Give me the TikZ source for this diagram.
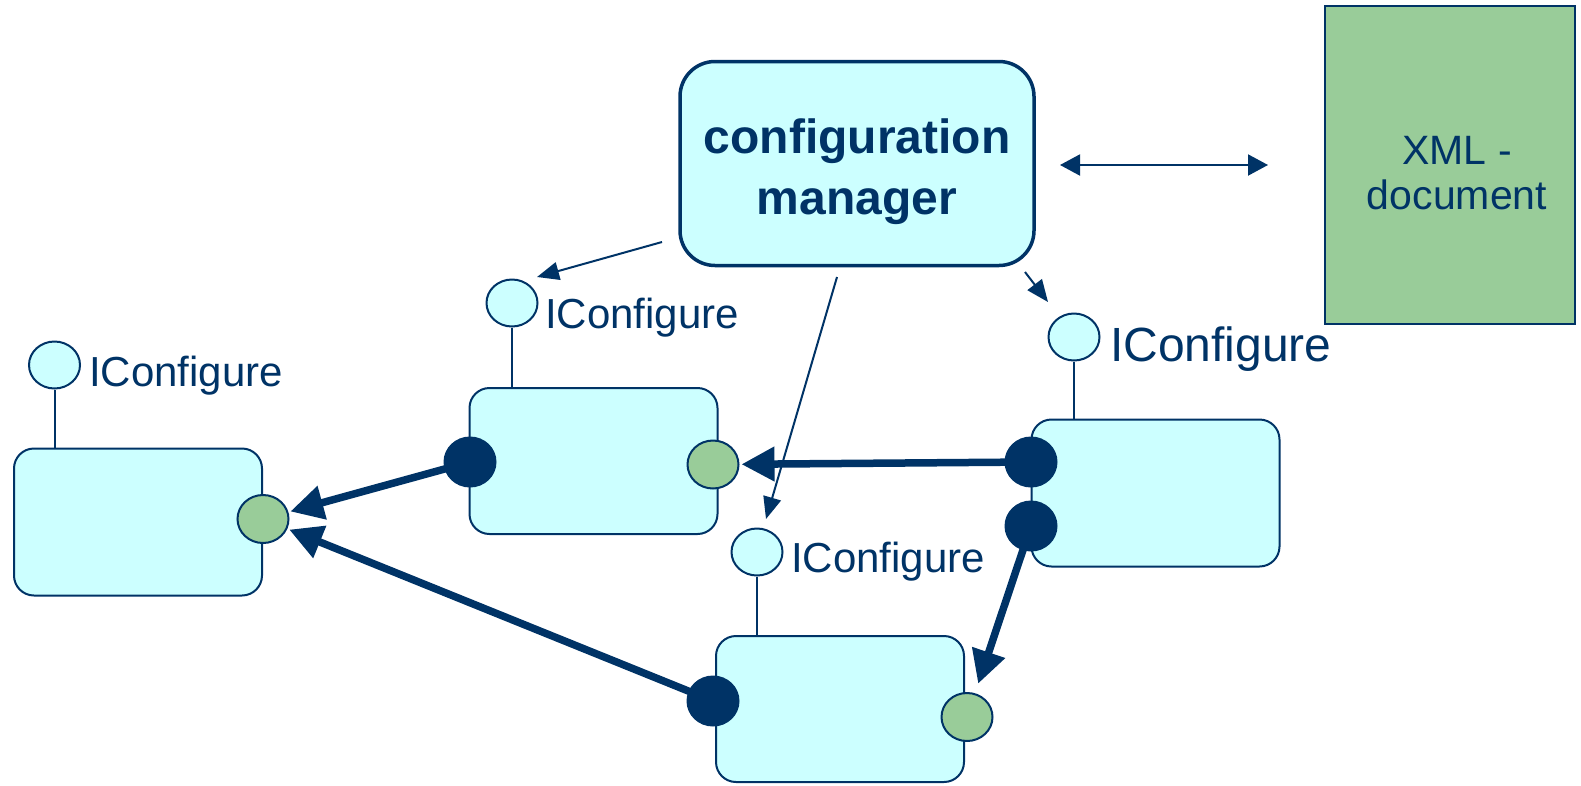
\documentclass[tikz,border=0pt]{standalone}
\usepackage{fontspec}
\setmainfont{Liberation Sans}
\usetikzlibrary{arrows.meta,shapes.geometric}
\definecolor{navy}{HTML}{003366}
\definecolor{lcyan}{HTML}{CCFFFF}
\definecolor{pgreen}{HTML}{99CC99}
\begin{document}
\begin{tikzpicture}[x=1pt,y=-1pt,
 comp/.style={draw=navy, line width=2pt, fill=lcyan, rounded corners=20pt, minimum width=248pt, minimum height=147pt, inner sep=0pt},
 iface/.style={ellipse, draw=navy, line width=2pt, fill=lcyan, minimum width=51pt, minimum height=47pt, inner sep=0pt},
 inport/.style={ellipse, draw=navy, line width=2pt, fill=pgreen, minimum width=51pt, minimum height=48pt, inner sep=0pt},
 outport/.style={ellipse, fill=navy, minimum width=53pt, minimum height=51pt, inner sep=0pt},
 stem/.style={draw=navy, line width=2pt},
 ilabel/.style={text=navy, font=\fontsize{42}{50}\selectfont, anchor=base west, inner sep=0pt},
 callarrow/.style={draw=navy, line width=2pt, -{Triangle[length=22pt,width=18pt]}},
 flow/.style={draw=navy, line width=7.5pt, -{Triangle[length=33pt,width=33pt]}},
 mtext/.style={text=navy, font=\fontsize{48}{61}\selectfont\bfseries, anchor=base, inner sep=0pt},
 xtext/.style={text=navy, font=\fontsize{41}{45}\selectfont, anchor=base, inner sep=0pt},
]
\useasboundingbox (0,0) rectangle (1581,785);

% configuration manager
\node[draw=navy, line width=3.5pt, fill=lcyan, rounded corners=35pt, minimum width=354pt, minimum height=204pt, inner sep=0pt] (mgr) at (857,163.5) {};
\node[mtext] (mgrA) at (857,153) {configuration};
\node[mtext] (mgrB) at (857,214) {manager};

% XML document
\node[draw=navy, line width=2pt, fill=pgreen, minimum width=250pt, minimum height=318pt, inner sep=0pt] (xml) at (1450,165) {};
\node[xtext] (xmlA) at (1457,164) {XML -};
\node[xtext] (xmlB) at (1457,209) {document};

\coordinate (dl) at (1060,165);
\coordinate (dr) at (1268,165);
\draw[draw=navy, line width=2pt, {Triangle[length=20pt,width=21pt]}-{Triangle[length=20pt,width=21pt]}] (dl) -- (dr);

% components
\node[comp] (L) at (138,522) {};
\node[comp, minimum height=146pt] (M) at (593.5,461) {};
\node[comp] (R) at (1155.5,493) {};
\node[comp, minimum height=146pt] (B) at (840,709) {};

% interfaces
\node[iface] (iL) at (54.5,365) {};
\node[iface] (iM) at (512,303) {};
\node[iface] (iB) at (757,552) {};
\node[iface] (iR) at (1074,337) {};
\draw[stem] (iL.south) -- (iL.south |- L.north);
\draw[stem] (iM.south) -- (iM.south |- M.north);
\draw[stem] (iB.south) -- (iB.south |- B.north);
\draw[stem] (iR.south) -- (iR.south |- R.north);
\node[ilabel] (tL) at (89,386) {IConfigure};
\node[ilabel] (tM) at (545,328) {IConfigure};
\node[ilabel] (tB) at (791,572) {IConfigure};
\node[ilabel, font=\fontsize{48}{56}\selectfont] (tR) at (1110,361) {IConfigure};

% calls from the manager
\coordinate (c1s) at (662,242); \coordinate (c1e) at (537,277);
\coordinate (c2s) at (837,277); \coordinate (c2e) at (766,519);
\coordinate (c3s) at (1025,272); \coordinate (c3e) at (1048,302);
\draw[callarrow] (c1s) -- (c1e);
\draw[callarrow] (c2s) -- (c2e);
\draw[callarrow] (c3s) -- (c3e);

% ports
\node[inport] (pL) at (263,519) {};
\node[outport] (oM) at (470,462) {};
\node[inport] (pM) at (713,464.5) {};
\node[outport] (oR1) at (1031,462) {};
\node[outport] (oR2) at (1031,526) {};
\node[outport] (oB) at (713,701) {};
\node[inport] (pB) at (967,717) {};

% data flows
\draw[flow, shorten <=-4pt, shorten >=2pt] (oM) -- (pL);
\draw[flow, shorten <=-4pt, shorten >=2pt] (oB) -- (pL);
\draw[flow, shorten <=-4pt, shorten >=2pt] (oR1) -- (pM);
\draw[flow, shorten <=-4pt, shorten >=10pt] (oR2) -- (pB);
\end{tikzpicture}
\end{document}
